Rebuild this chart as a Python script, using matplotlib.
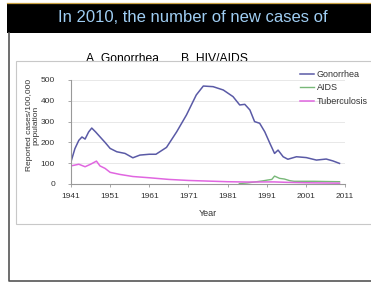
import matplotlib
matplotlib.use('Agg')
import matplotlib.pyplot as plt
from matplotlib.patches import Rectangle
from matplotlib.lines import Line2D

plt.rcParams['font.family'] = ['Liberation Sans', 'DejaVu Sans']

W, H = 371, 282

# data (cases per 100,000)
gon_years = [1941, 1942, 1943, 1943.8, 1944.6, 1945.5, 1946.3, 1947.3, 1948.4, 1949.7, 1951,
             1952.7, 1954.8, 1956.8, 1958.6, 1961, 1962.7, 1965.4, 1968, 1970.5, 1973,
             1974.8, 1977.3, 1979.9, 1982.4, 1984.1, 1985.4, 1986.7, 1987.9, 1989.2,
             1990.5, 1991.8, 1993, 1993.9, 1995.2, 1996.4, 1998.6, 2001.1, 2003.7,
             2006.2, 2007.9, 2009.6]
gonorrhea = [107, 170, 210, 226, 216, 250, 269, 250, 227, 200, 171,
             155, 147, 126, 139, 143, 143, 176, 251, 332, 428,
             471, 468, 452, 420, 380, 383, 356, 300, 292,
             251, 196, 147, 163, 131, 119, 131, 127, 115,
             120, 111, 99]

tb_years = [1941, 1943, 1944.6, 1946, 1947.5, 1948.4, 1949.7, 1951, 1953.5, 1956.8,
            1961, 1966, 1971, 1976, 1981, 1986, 1991, 1993, 1996, 2001, 2005, 2009.6]
tuberculosis = [87, 95, 83, 95, 110, 87, 75, 56, 46, 36,
                30, 22, 17, 14, 11, 9.5, 10, 10, 8, 6, 5, 4]

aids_years = [1984, 1986, 1988, 1990, 1991.2, 1992.3, 1993, 1994.3, 1995.5, 1996.9,
              1998, 2000, 2003, 2006, 2009.6]
aids = [2, 5, 10, 15, 19, 22, 38, 27, 24, 16, 13, 13, 13, 12, 11]

xticks = [1941, 1951, 1961, 1971, 1981, 1991, 2001, 2011]
yticks = [0, 100, 200, 300, 400, 500]


def fx(px):
    return px / W


def fy(py):
    return 1 - py / H


fig = plt.figure(figsize=(W / 100, H / 100), dpi=100)

# slide decoration
fig.add_artist(Rectangle((fx(7), fy(33)), fx(371) - fx(7), fy(4) - fy(33),
                         transform=fig.transFigure, facecolor='black', edgecolor='none', zorder=1))
fig.add_artist(Line2D([fx(7), fx(371)], [fy(3), fy(3)], transform=fig.transFigure,
                      color='#c8a040', lw=0.9, zorder=1))
fig.add_artist(Line2D([fx(8.5), fx(8.5), fx(371)], [fy(33), fy(280.5), fy(280.5)],
                      transform=fig.transFigure, color='#555555', lw=1.2, zorder=1))
fig.text(fx(193), fy(18), 'In 2010, the number of new cases of', color='#9fcdf2',
         fontsize=12, ha='center', va='center', zorder=2)
fig.text(fx(86), fy(61.5), 'A. Gonorrhea', fontsize=8.7, ha='left', va='baseline', zorder=1)
fig.text(fx(181), fy(61.5), 'B. HIV/AIDS', fontsize=8.7, ha='left', va='baseline', zorder=1)

# chart picture frame
fig.add_artist(Rectangle((fx(16), fy(224)), fx(380) - fx(16), fy(61) - fy(224),
                         transform=fig.transFigure, facecolor='white', edgecolor='#c8c8c8',
                         lw=0.8, zorder=2))

ax = fig.add_axes([fx(71), fy(184), fx(345) - fx(71), fy(80) - fy(184)], zorder=3)
ax.patch.set_visible(False)

ax.plot(gon_years, gonorrhea, color='#5a5aa6', lw=1.1, label='Gonorrhea')
ax.plot(aids_years, aids, color='#78b878', lw=1.0, label='AIDS')
ax.plot(tb_years, tuberculosis, color='#e066e0', lw=1.1, label='Tuberculosis')

ax.set_xlim(1941, 2011)
ax.set_ylim(0, 500)
ax.set_xticks(xticks)
ax.set_yticks(yticks)
ax.grid(axis='y', color='#e4e4e4', lw=0.6)
ax.set_axisbelow(True)
for s in ['top', 'right']:
    ax.spines[s].set_visible(False)
for s in ['left', 'bottom']:
    ax.spines[s].set_color('#999999')
    ax.spines[s].set_linewidth(0.8)
ax.tick_params(axis='both', colors='#999999', length=2.5, width=0.6, labelsize=6,
               labelcolor='#333333')
ax.tick_params(axis='y', pad=9)
ax.tick_params(axis='x', pad=4)

fig.text(fx(33), fy(125), 'Reported cases/100,000\npopulation', rotation=90, fontsize=6,
         color='#333333', ha='center', va='center', multialignment='center', zorder=4,
         linespacing=0.9)
fig.text(fx(208), fy(213), 'Year', fontsize=6.5, color='#333333', ha='center', va='center',
         zorder=4)

ax.legend(loc='upper left', bbox_to_anchor=(fx(298), fy(68)), bbox_transform=fig.transFigure,
          frameon=False, fontsize=6.5, handlelength=1.6, handletextpad=0.3,
          labelspacing=0.5, borderaxespad=0, borderpad=0.2, labelcolor='#333333')

fig.savefig('out.png', dpi=100)
